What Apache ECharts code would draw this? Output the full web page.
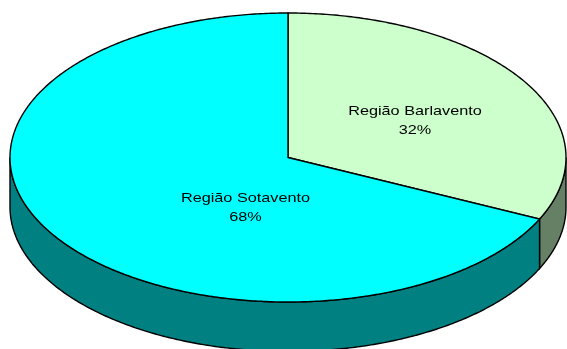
<!DOCTYPE html>
<html>
<head>
<meta charset="utf-8">
<style>html,body{margin:0;padding:0;background:#fff}#box{width:567px;height:349px}</style>
<script src="https://cdn.jsdelivr.net/npm/echarts@6/dist/echarts.min.js"></script>
</head>
<body>
<div id="box"></div>
<script>
var categories = ["Região Barlavento", "Região Sotavento"];
var shares = [32, 68];
var percentLabels = ["32%", "68%"];
var topColors = ["#CCFFCC", "#00FFFF"];
var sideColors = ["#668066", "#008080"];

// ellipse of the top face and height of the wall
var cx = 288, cy = 157.5, rx = 278, ry = 144.5, depth = 49.5;
// label centres, the original places them by hand
var labelSpots = [[415, 120.5], [245.5, 207.5]];
var total = shares.reduce(function(a, b){ return a + b; }, 0);

function pointAt(t, dy){
    return [cx + rx * Math.sin(t), cy - ry * Math.cos(t) + (dy || 0)];
}
function arcPoints(t0, t1, dy){
    var n = Math.max(2, Math.ceil(Math.abs(t1 - t0) / 0.01)), pts = [];
    for (var i = 0; i <= n; i++) {
        pts.push(pointAt(t0 + (t1 - t0) * i / n, dy));
    }
    return pts;
}
function startAngle(idx){
    var sum = 0;
    for (var i = 0; i < idx; i++) sum += shares[i];
    return sum / total * Math.PI * 2;
}
var lineStyle = { stroke: "#000", lineWidth: 1.4 };

var mycharts = echarts.init(document.getElementById("box"), null, { renderer: "canvas" });
mycharts.setOption({
    backgroundColor: "#fff",
    animation: false,
    series: [{
        type: "custom",
        coordinateSystem: "none",
        data: shares.map(function(v, i){ return { name: categories[i], value: [v, i] }; }),
        renderItem: function(params, api){
            var idx = api.value(1);
            var t0 = startAngle(idx);
            var t1 = t0 + api.value(0) / total * Math.PI * 2;
            var children = [];

            // wall: only the part of the rim on the front half shows
            var w0 = Math.max(t0, Math.PI / 2), w1 = Math.min(t1, Math.PI * 1.5);
            if (w1 > w0) {
                var wall = arcPoints(w0, w1, 0).concat(arcPoints(w1, w0, depth));
                children.push({
                    type: "polygon",
                    shape: { points: wall },
                    style: Object.assign({ fill: sideColors[idx] }, lineStyle)
                });
            }

            // top face
            var face = [[cx, cy]].concat(arcPoints(t0, t1, 0));
            children.push({
                type: "polygon",
                shape: { points: face },
                style: Object.assign({ fill: topColors[idx] }, lineStyle)
            });

            // text in the reference is stretched sideways, hence scaleX
            children.push({
                type: "text",
                z2: 10,
                x: labelSpots[idx][0],
                y: labelSpots[idx][1],
                scaleX: 1.25,
                style: {
                    x: 0, y: 0,
                    text: categories[idx] + "\n" + percentLabels[idx],
                    fill: "#000",
                    font: "13px 'Liberation Sans', Arial, sans-serif",
                    lineHeight: 19,
                    align: "center",
                    verticalAlign: "middle"
                }
            });
            return { type: "group", children: children };
        }
    }]
});
</script>
</body>
</html>
